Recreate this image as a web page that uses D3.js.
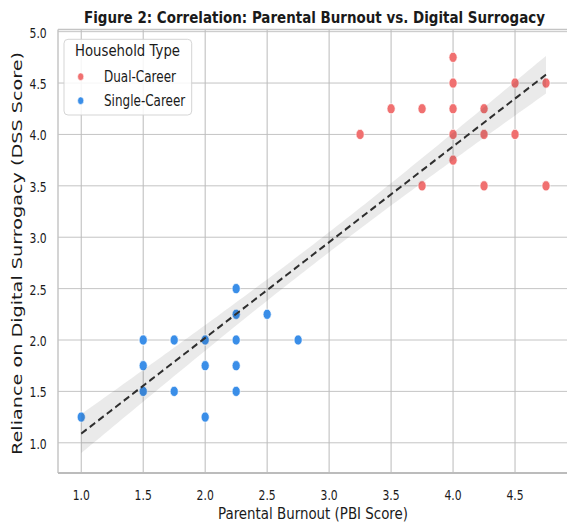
<!DOCTYPE html>
<html><head><meta charset="utf-8">
<script src="https://cdn.jsdelivr.net/npm/d3@7"></script>
<style>
html,body{margin:0;padding:0;background:#fff;overflow:hidden;}
svg{display:block;}
text{font-family:"DejaVu Sans",sans-serif;fill:#1a1a1a;}
</style>
</head><body>
<svg id="chart"></svg>
<script>
// ---------- data ----------
const seriesNames = ["Dual-Career", "Single-Career"];
const seriesColors = ["#f07070", "#3a8ee8"];
const dualX   = [3.25, 3.5, 3.75, 4.0, 4.0, 4.0, 4.0, 4.0, 3.75, 4.25, 4.25, 4.25, 4.5, 4.5, 4.75, 4.75];
const dualY   = [4.0, 4.25, 4.25, 4.75, 4.5, 4.25, 4.0, 3.75, 3.5, 4.25, 4.0, 3.5, 4.5, 4.0, 4.5, 3.5];
const singleX = [1.0, 1.5, 1.5, 1.5, 1.75, 1.75, 2.0, 2.0, 2.0, 2.25, 2.25, 2.25, 2.25, 2.25, 2.5, 2.75, 1.5, 1.75, 2.0];
const singleY = [1.25, 2.0, 1.75, 1.5, 2.0, 1.5, 2.0, 1.75, 1.25, 2.5, 2.25, 2.0, 1.75, 1.5, 2.25, 2.0, 2.0, 2.0, 2.0];
const xTicks = [1.0, 1.5, 2.0, 2.5, 3.0, 3.5, 4.0, 4.5];
const yTicks = [1.0, 1.5, 2.0, 2.5, 3.0, 3.5, 4.0, 4.5, 5.0];
const titleText = "Figure 2: Correlation: Parental Burnout vs. Digital Surrogacy";
const xLabel = "Parental Burnout (PBI Score)";
const yLabel = "Reliance on Digital Surrogacy (DSS Score)";
const legendTitle = "Household Type";

// ---------- layout (image is horizontally condensed) ----------
const W = 567, H = 525, R = 0.8;
const VW = W / R;
const svg = d3.select("#chart").attr("width", W).attr("height", H)
  .attr("viewBox", `0 0 ${VW} ${H}`).attr("preserveAspectRatio", "none");

const x = d3.scaleLinear().domain([0.8125, 4.9375]).range([58 / R, 569.25 / R]);
const y = d3.scaleLinear().domain([0.706, 5.02]).range([473, 29.6]);
const [x0, x1] = x.range();
const [yb, yt] = y.range();

// grid
svg.append("g").selectAll("line").data(xTicks).join("line")
  .attr("x1", d => x(d)).attr("x2", d => x(d)).attr("y1", yt).attr("y2", yb)
  .attr("stroke", "#bdbdbd").attr("stroke-width", 1.3);
svg.append("g").selectAll("line").data(yTicks).join("line")
  .attr("x1", x0).attr("x2", x1).attr("y1", d => y(d)).attr("y2", d => y(d))
  .attr("stroke", "#bdbdbd").attr("stroke-width", 1);

// spines
svg.append("line").attr("x1", x0).attr("x2", x0).attr("y1", yt).attr("y2", yb)
  .attr("stroke", "#c4c4c4").attr("stroke-width", 1.8);
svg.append("line").attr("x1", x0).attr("x2", x1).attr("y1", yb).attr("y2", yb)
  .attr("stroke", "#bcbcbc").attr("stroke-width", 1.8);
svg.append("line").attr("x1", x0).attr("x2", x1).attr("y1", yt).attr("y2", yt)
  .attr("stroke", "#c4c4c4").attr("stroke-width", 1.5);

// points
const groups = [
  {name: seriesNames[0], color: seriesColors[0], xs: dualX, ys: dualY},
  {name: seriesNames[1], color: seriesColors[1], xs: singleX, ys: singleY}
];
groups.forEach(g => {
  svg.append("g").selectAll("circle").data(g.xs.map((v, i) => [v, g.ys[i]])).join("circle")
    .attr("cx", d => x(d[0])).attr("cy", d => y(d[1])).attr("r", 5.1)
    .attr("fill", g.color).attr("stroke", "#fff").attr("stroke-width", 0.8);
});

// regression fit + confidence band
const allX = dualX.concat(singleX), allY = dualY.concat(singleY);
const n = allX.length;
const mx = d3.mean(allX), my = d3.mean(allY);
const sxx = d3.sum(allX, v => (v - mx) ** 2);
const sxy = d3.sum(allX.map((v, i) => (v - mx) * (allY[i] - my)));
const slope = sxy / sxx, icpt = my - slope * mx;
const sse = d3.sum(allX.map((v, i) => (allY[i] - (icpt + slope * v)) ** 2));
const s = Math.sqrt(sse / (n - 2));
const tcrit = 1.2;
const [xmin, xmax] = d3.extent(allX);
const grid = d3.range(0, 101).map(i => xmin + (xmax - xmin) * i / 100);
const fit = grid.map(v => {
  const yh = icpt + slope * v;
  const se = s * Math.sqrt(1 / n + (v - mx) ** 2 / sxx);
  return {x: v, y: yh, lo: yh - tcrit * se, hi: yh + tcrit * se};
});
svg.append("path").datum(fit)
  .attr("d", d3.area().x(d => x(d.x)).y0(d => y(d.lo)).y1(d => y(d.hi)))
  .attr("fill", "#333").attr("fill-opacity", 0.1);
svg.append("path").datum(fit)
  .attr("d", d3.line().x(d => x(d.x)).y(d => y(d.y)))
  .attr("fill", "none").attr("stroke", "#2e2e2e").attr("stroke-width", 2.2)
  .attr("stroke-dasharray", "8,4.5");

// tick labels
svg.append("g").selectAll("text").data(xTicks).join("text")
  .attr("x", d => x(d)).attr("y", 500).attr("text-anchor", "middle")
  .attr("font-size", 13.5).text(d => d.toFixed(1));
svg.append("g").selectAll("text").data(yTicks).join("text")
  .attr("x", 46.7 / R).attr("y", d => y(d) + 1.5).attr("text-anchor", "end")
  .attr("dominant-baseline", "central").attr("font-size", 13.5).text(d => d.toFixed(1));

// title & axis labels
svg.append("text").attr("x", 314.5 / R).attr("y", 23).attr("text-anchor", "middle")
  .attr("font-size", 16.5).attr("font-weight", "bold")
  .attr("textLength", 461 / R).attr("lengthAdjust", "spacingAndGlyphs").text(titleText);
svg.append("text").attr("x", 313 / R).attr("y", 519).attr("text-anchor", "middle")
  .attr("font-size", 16.5).attr("textLength", 190 / R).attr("lengthAdjust", "spacingAndGlyphs")
  .text(xLabel);
svg.append("text").attr("transform", `translate(${17 / R},253.5) rotate(-90)`)
  .attr("text-anchor", "middle").attr("dominant-baseline", "central")
  .attr("font-size", 18).attr("textLength", 403).attr("lengthAdjust", "spacingAndGlyphs")
  .text(yLabel);

// legend
const lg = svg.append("g");
lg.append("rect").attr("x", 64 / R).attr("y", 39.3).attr("width", (191.7 - 64) / R).attr("height", 75.7)
  .attr("rx", 5).attr("ry", 4).attr("fill", "#fff").attr("fill-opacity", 0.85)
  .attr("stroke", "#d0d0d0").attr("stroke-width", 1);
lg.append("text").attr("x", 127.5 / R).attr("y", 56.5).attr("text-anchor", "middle")
  .attr("font-size", 16).attr("textLength", 105 / R).attr("lengthAdjust", "spacingAndGlyphs")
  .text(legendTitle);
const legY = [76.7, 100.7];
groups.forEach((g, i) => {
  lg.append("circle").attr("cx", 80.7 / R).attr("cy", legY[i]).attr("r", 3.8)
    .attr("fill", g.color).attr("stroke", "#fff").attr("stroke-width", 0.6);
  lg.append("text").attr("x", 104 / R).attr("y", legY[i] + 5).attr("font-size", 15).text(g.name);
});
</script>
</body></html>
